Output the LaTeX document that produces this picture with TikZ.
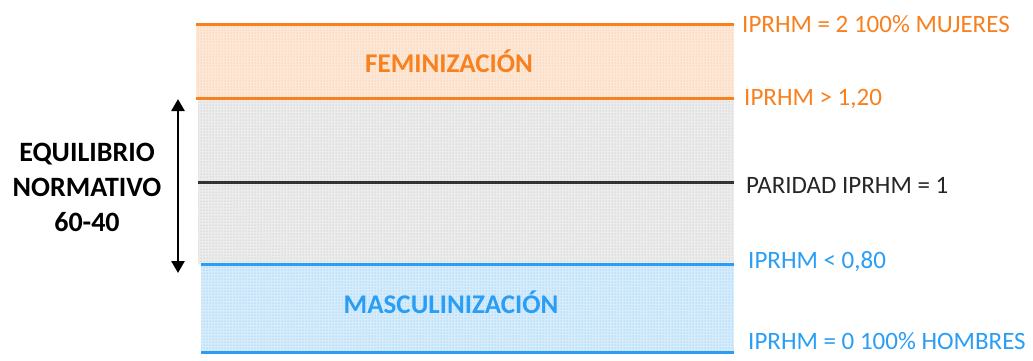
\documentclass[tikz,border=0pt]{standalone}
\usepackage{fontspec}
\setmainfont{Carlito}
\usetikzlibrary{patterns,arrows.meta}
\definecolor{orng}{HTML}{F7801F}
\definecolor{blu}{HTML}{2A9DF4}
\definecolor{orfill}{HTML}{FDE8D8}
\definecolor{grfill}{HTML}{ECECEC}
\definecolor{blfill}{HTML}{D6ECFB}
\begin{document}
\begin{tikzpicture}[x=1pt,y=-1pt,
  lvl/.style={line width=3pt},
  rlab/.style={anchor=west,inner sep=0pt,font=\fontsize{25}{28}\selectfont},
  big/.style={font=\bfseries\fontsize{27}{30}\selectfont,inner sep=0pt}]
\useasboundingbox (0,0) rectangle (1033,360);
% bands
\fill[orfill] (196,24) rectangle (734,98);
\fill[pattern=dots,pattern color=orng!60] (196,24) rectangle (734,98);
\fill[grfill] (198,98) rectangle (734,264);
\fill[pattern=dots,pattern color=gray!60] (198,98) rectangle (734,264);
\fill[blfill] (201,264) rectangle (734,352);
\fill[pattern=dots,pattern color=blu!70] (201,264) rectangle (734,352);
% level lines
\coordinate (o1a) at (196,24);  \coordinate (o1b) at (734,24);
\coordinate (o2a) at (196,98);  \coordinate (o2b) at (734,98);
\coordinate (k1a) at (198,182); \coordinate (k1b) at (734,182);
\coordinate (b1a) at (201,264); \coordinate (b1b) at (734,264);
\coordinate (b2a) at (201,352); \coordinate (b2b) at (734,352);
\draw[lvl,orng] (o1a) -- (o1b);
\draw[lvl,orng] (o2a) -- (o2b);
\draw[lvl,black!80] (k1a) -- (k1b);
\draw[lvl,blu] (b1a) -- (b1b);
\draw[lvl,blu] (b2a) -- (b2b);
% band titles
\node[big,orng] (fem) at (449,61) {FEMINIZACIÓN};
\node[big,blu] (mas) at (451,302) {MASCULINIZACIÓN};
% right labels
\node[rlab,orng] (l1) at (742,24) {IPRHM = 2 100\% MUJERES};
\node[rlab,orng] (l2) at (744,99) {IPRHM > 1,20};
\node[rlab,black!85] (l3) at (746,185) {PARIDAD IPRHM = 1};
\node[rlab,blu] (l4) at (748,262) {IPRHM < 0,80};
\node[rlab,blu] (l5) at (748,341) {IPRHM = 0 100\% HOMBRES};
% left label
\node[align=center,inner sep=0pt,font=\bfseries\fontsize{28}{35}\selectfont] (eq) at (87,187) {EQUILIBRIO\\NORMATIVO\\60-40};
% arrow
\coordinate (at) at (178,99);
\coordinate (ab) at (178,273);
\draw[line width=2.6pt,{Triangle[length=12pt,width=13pt]}-{Triangle[length=12pt,width=13pt]}] (at) -- (ab);
\end{tikzpicture}
\end{document}
